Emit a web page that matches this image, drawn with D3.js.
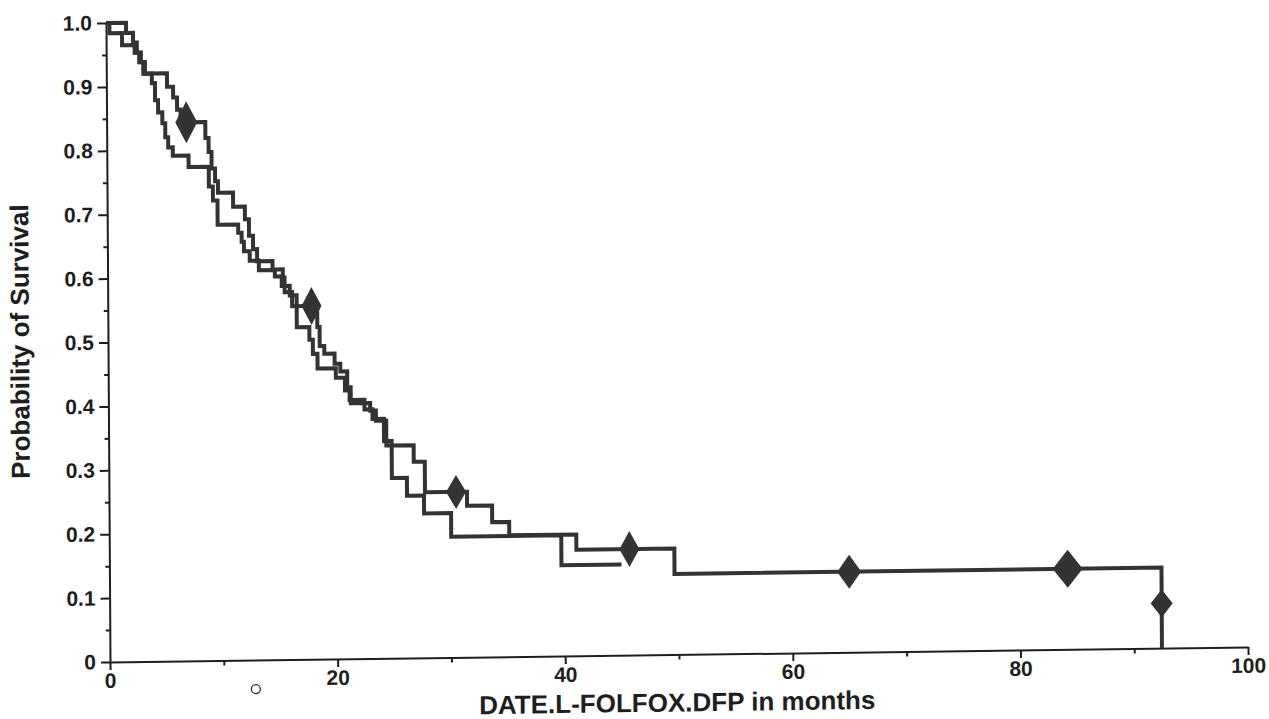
<!DOCTYPE html>
<html>
<head>
<meta charset="utf-8">
<script src="https://cdn.jsdelivr.net/npm/d3@7"></script>
<style>
  body { margin: 0; background: #fff; }
  svg { display: block; font-family: "Liberation Sans", Arial, sans-serif; }
  .axis text { font-size: 21px; font-weight: bold; fill: #1e1e1e; }
  .axis path, .axis line { stroke: #1e1e1e; stroke-width: 2; }
  .curve { fill: none; stroke: #333; stroke-width: 4; stroke-linejoin: miter; }
</style>
</head>
<body>
<svg id="chart" width="1269" height="719"></svg>
<script>
// tick values
const xTicks = [0, 20, 40, 60, 80, 100];
const xMinor = [10, 30, 50, 70, 90];
const yTicks = [0, 0.1, 0.2, 0.3, 0.4, 0.5, 0.6, 0.7, 0.8, 0.9, 1.0];
const yMinor = [0.05, 0.15, 0.25, 0.35, 0.45, 0.55, 0.65, 0.75, 0.85, 0.95];

// curve A (months, survival) - step after
const timeA = [0, 1.76, 2.37, 2.7, 3.05, 3.4, 5.33, 5.86, 6.2, 6.5, 8.67, 8.95, 9.2, 9.5, 9.75,
  11.07, 12.1, 12.45, 12.8, 13.15, 14.5, 15.4, 15.55, 16.2, 18.4, 18.6, 19.0, 19.9, 20.4, 21.0,
  21.3, 23.0, 23.5, 24.4, 26.8, 27.77, 31.46, 33.66, 35.15, 41.04, 49.65, 92.44];
const survA = [1, 0.984, 0.969, 0.953, 0.938, 0.92, 0.899, 0.882, 0.863, 0.843, 0.818, 0.796, 0.77, 0.75, 0.732,
  0.71, 0.69, 0.664, 0.643, 0.624, 0.611, 0.598, 0.575, 0.553, 0.52, 0.49, 0.478, 0.462, 0.45, 0.425,
  0.40, 0.388, 0.372, 0.333, 0.307, 0.259, 0.237, 0.211, 0.19, 0.166, 0.126, 0];

// curve B
const timeB = [0, 0.3, 1.4, 2.5, 2.9, 3.25, 4.0, 4.27, 4.53, 4.9, 5.15, 5.4, 5.8, 7.18, 8.95, 9.3, 9.7,
  11.5, 11.8, 12.0, 12.5, 13.3, 14.7, 15.3, 16.0, 16.6, 17.7, 18.0, 18.4, 20.0, 20.8, 21.2, 22.5,
  23.2, 24.2, 24.87, 26.19, 27.68, 30.05, 39.72, 45.0];
const survB = [1, 0.984, 0.965, 0.953, 0.938, 0.92, 0.905, 0.878, 0.859, 0.842, 0.82, 0.804, 0.791, 0.773, 0.742, 0.72, 0.682,
  0.669, 0.655, 0.64, 0.625, 0.61, 0.6, 0.585, 0.57, 0.52, 0.50, 0.478, 0.455, 0.44, 0.42, 0.405, 0.39,
  0.375, 0.34, 0.282, 0.254, 0.226, 0.189, 0.142, 0.142];

// censored marks
const censorTime = [7.0, 17.9, 30.5, 45.7, 65.0, 84.2, 92.44];
const censorSurv = [0.843, 0.553, 0.259, 0.166, 0.126, 0.126, 0.07];

const xLabel = 'DATE.L-FOLFOX.DFP in months';
const yLabel = 'Probability of Survival';

const svg = d3.select('#chart');
// plot size along the axes
const width = 1138;
const height = 639;

// scanned page is slightly skewed, origin at the (0,0) corner
const g = svg.append('g')
  .attr('transform', 'matrix(1,-0.0132,0.0063,1,110,662)');

const x = d3.scaleLinear().domain([0, 100]).range([0, width]);
const y = d3.scaleLinear().domain([0, 1]).range([0, -height]);

// axes
g.append('g').attr('class', 'axis')
  .call(d3.axisBottom(x).tickValues(xTicks).tickSize(8).tickSizeOuter(0).tickPadding(3)
    .tickFormat(d3.format('d')));
g.append('g').attr('class', 'axis')
  .call(d3.axisBottom(x).tickValues(xMinor).tickSize(5).tickSizeOuter(0).tickFormat(''))
  .select('.domain').remove();
g.append('g').attr('class', 'axis')
  .call(d3.axisLeft(y).tickValues(yTicks).tickSize(9).tickSizeOuter(0).tickPadding(5)
    .tickFormat(function(d) { return d === 0 ? '0' : d3.format('.1f')(d); }));
g.append('g').attr('class', 'axis')
  .call(d3.axisLeft(y).tickValues(yMinor).tickSize(4).tickSizeOuter(0).tickFormat(''))
  .select('.domain').remove();

// survival step curves
const line = d3.line()
  .x(function(d) { return x(d[0]); })
  .y(function(d) { return y(d[1]); })
  .curve(d3.curveStepAfter);

const curves = [d3.zip(timeA, survA), d3.zip(timeB, survB)];
g.selectAll('.curve')
  .data(curves)
  .enter().append('path')
  .attr('class', 'curve')
  .attr('d', line);

// diamond censor marks, half width / half height in px
const markW = [11, 10, 10, 10, 12, 15, 11];
const markH = [21, 19, 17, 18, 17, 19, 14];
g.selectAll('.mark')
  .data(d3.zip(censorTime, censorSurv))
  .enter().append('path')
  .attr('class', 'mark')
  .attr('d', function(d, i) {
    const cx = x(d[0]), cy = y(d[1]);
    const p = d3.path();
    p.moveTo(cx, cy - markH[i]);
    p.lineTo(cx + markW[i], cy);
    p.lineTo(cx, cy + markH[i]);
    p.lineTo(cx - markW[i], cy);
    p.closePath();
    return p.toString();
  })
  .style('fill', '#333');

// axis titles
g.append('text')
  .attr('x', x(50) - 2)
  .attr('y', 57)
  .attr('text-anchor', 'middle')
  .style('font-size', '26px')
  .style('font-weight', 'bold')
  .style('fill', '#1e1e1e')
  .text(xLabel);

g.append('text')
  .attr('transform', 'translate(-79,' + (y(0.5) - 2) + ') rotate(-90)')
  .attr('text-anchor', 'middle')
  .style('font-size', '26px')
  .style('font-weight', 'bold')
  .style('fill', '#1e1e1e')
  .text(yLabel);

// small stray circle below the axis
g.append('circle')
  .attr('cx', x(12.8))
  .attr('cy', 29)
  .attr('r', 4.5)
  .style('fill', 'none')
  .style('stroke', '#333')
  .style('stroke-width', 1.3);
</script>
</body>
</html>
